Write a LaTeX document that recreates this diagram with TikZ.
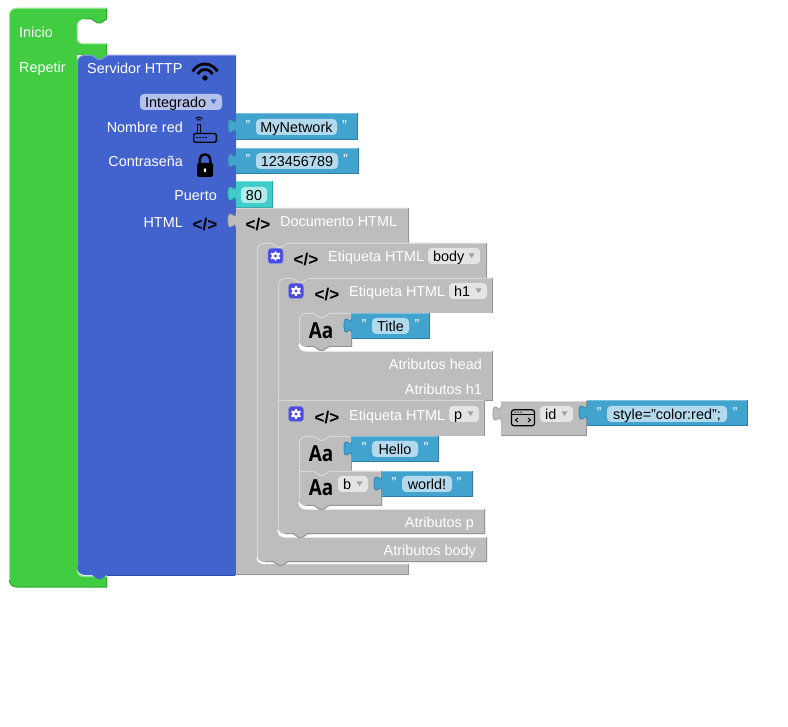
\documentclass[tikz,border=0pt]{standalone}
\usepackage{fontspec}
\setmainfont{Liberation Sans}
\newfontfamily\iconfont{Open Sans}

\definecolor{greenmain}{HTML}{41CC41}
\definecolor{greenlight}{HTML}{8AE58A}
\definecolor{greendark}{HTML}{2EA52E}
\definecolor{bluemain}{HTML}{4263CE}
\definecolor{bluelight}{HTML}{7F95E0}
\definecolor{bluedark}{HTML}{2E4AA8}
\definecolor{bluefield}{HTML}{B3C1EB}
\definecolor{skymain}{HTML}{42A3CF}
\definecolor{skylight}{HTML}{7BBEDD}
\definecolor{skydark}{HTML}{2E7FA6}
\definecolor{skyfield}{HTML}{B3DAEC}
\definecolor{tealmain}{HTML}{41CCCC}
\definecolor{teallight}{HTML}{7BDFDF}
\definecolor{tealdark}{HTML}{2EA6A6}
\definecolor{tealfield}{HTML}{B3EBEB}
\definecolor{greymain}{HTML}{BDBDBD}
\definecolor{greylight}{HTML}{D8D8D8}
\definecolor{greydark}{HTML}{969696}
\definecolor{greyfield}{HTML}{E4E4E4}
\definecolor{gearblue}{HTML}{4C4CE0}

\tikzset{
    label/.style={inner sep=0pt, yshift=-0.7pt, text=white, font=\fontsize{14.4}{16}\selectfont},
    value/.style={inner sep=0pt, yshift=-0.7pt, text=black, font=\fontsize{14.4}{16}\selectfont, anchor=base},
    quote/.style={inner sep=0pt, yshift=-0.7pt, text=white, font=\fontsize{14.4}{16}\selectfont, anchor=base},
    codeicon/.style={inner sep=0pt, text=black, font=\fontsize{17}{18}\selectfont\bfseries},
    textsicon/.style={inner sep=0pt, text=black, font=\fontsize{22}{24}\selectfont\iconfont\bfseries, xscale=0.86, transform shape},
    hi/.style={line width=1pt, draw=#1light},
    lo/.style={line width=1pt, draw=#1dark},
}

% tabs of the blocks, left to right and right to left
\def\notchR{-- ++(6,4) -- ++(3,0) -- ++(6,-4)}
\def\notchL{-- ++(-6,4) -- ++(-3,0) -- ++(-6,-4)}

% left puzzle tab of an output block
\newcommand{\puzzletab}[3]{
    \path[fill=#3main, draw=#3dark, line width=0.7pt] (#1,#2+20) .. controls (#1,#2+10) and (#1-8,#2+28) .. (#1-8,#2+12.5)
        .. controls (#1-8,#2-3) and (#1,#2+15) .. (#1,#2+5);
}
% value block: x0, y0, x1, y1, palette
\newcommand{\valblock}[5]{
    \puzzletab{#1}{#2}{#5}
    \fill[#5main] (#1,#2) rectangle (#3,#4);
    \draw[hi=#5] (#1,#2+0.5) -- (#3,#2+0.5);
    \draw[lo=#5] (#3-0.5,#2) -- (#3-0.5,#4-0.5) -- (#1,#4-0.5);
}
% editable field: name, x0, x1, centre y, palette, text
\newcommand{\fieldpill}[6]{
    \fill[#5field, rounded corners=4pt] (#2,#4-8) rectangle (#3,#4+8);
    \path ({(#2+#3)/2},#4+5) node[value](#1) {#6};
}
% dropdown field: name, x0, x1, centre y, palette, text, colour of the mark
\newcommand{\droppill}[7]{
    \fill[#5field, rounded corners=4pt] (#2,#4-8) rectangle (#3,#4+8);
    \path (#2+5,#4+5) node[value, anchor=base west](#1) {#6};
    \fill[#7] (#3-11.5,#4-2.5) -- (#3-5.5,#4-2.5) -- (#3-8.5,#4+2) -- cycle;
}
% settings button
\newcommand{\gearbutton}[2]{
    \fill[gearblue, draw=gearblue!70!white, rounded corners=3pt] (#1-7.5,#2-7.5) rectangle (#1+7.5,#2+7.5);
    \foreach \a in {0,60,...,300}
        \draw[white, line width=1.8pt] (#1,#2) ++(\a+30:3pt) -- ++(\a+30:2.2pt);
    \fill[white] (#1,#2) circle (3.9pt);
    \fill[gearblue] (#1,#2) circle (1.7pt);
}

\begin{document}
\begin{tikzpicture}[x=1pt, y=-1pt]
    \useasboundingbox (0,0) rectangle (788,727);

    % Inicio / Repetir
    \fill[greenmain] (60,587) [rounded corners=8pt] -- (9,587) -- (9,8) -- (60,8) [sharp corners] -- (107,8) -- (107,19) \notchL -- (85,19)
        [rounded corners=7pt] -- (77,19) -- (77,44) -- (90,44) [sharp corners] -- (107,44) -- (107,55) \notchL -- (77,55) -- (77,560)
        [rounded corners=7pt] -- (77,577) -- (95,577) [sharp corners] -- (107,577) -- (107,587) -- cycle;
    \draw[hi=green] (9.5,580) -- (9.5,16) .. controls (9.5,11) and (12,8.5) .. (17,8.5) -- (106.5,8.5);
    \draw[lo=green] (106.5,9) -- (106.5,19) \notchL -- (85,19);
    \draw[hi=green] (77,23) -- (77,39) .. controls (77,42) and (80,44) .. (84,44) -- (106.5,44);
    \draw[lo=green] (106.5,44) -- (106.5,55);
    \draw[hi=green, line width=1.4pt] (77,569) .. controls (77,574) and (80,576.5) .. (85,576.5) -- (106.5,576.5);
    \draw[lo=green] (9.5,580) .. controls (9.5,584) and (12,587) .. (17,587) -- (106.5,587) -- (106.5,577);
    \path (19,37) node[label, anchor=base west](inicio) {Inicio};
    \path (19,72) node[label, anchor=base west](repetir) {Repetir};

    % Servidor HTTP
    \fill[bluemain] (80,55) -- (92,55) \notchR -- (236,55) -- (236,575) -- (107,575) \notchL -- (85,575) [rounded corners=8pt] -- (77,575) -- (77,300)
        -- (77,55) -- (85,55) [sharp corners] -- cycle;
    \draw[hi=blue] (77.5,567) -- (77.5,63) .. controls (77.5,58) and (80,55.5) .. (85,55.5) -- (92,55.5) \notchR -- (236,55.5);
    \draw[lo=blue] (107,575) -- (235,575);
    \path (87,73) node[label, anchor=base west](servidor) {Servidor HTTP};
    \path (183,132) node[label, anchor=base east](nombre) {Nombre red};
    \path (183,166) node[label, anchor=base east](contrasena) {Contraseña};
    \path (217,200) node[label, anchor=base east](puerto) {Puerto};
    \path (183,226.5) node[label, anchor=base east](html) {HTML};
    \droppill{integrado}{140}{222}{102}{blue}{Integrado}{bluemain}

    % wifi
    \fill[black] (205,78) circle (2.7pt);
    \draw[black, line width=2.8pt] (205,78) ++(28:14pt) arc[start angle=28, end angle=152, radius=14pt];
    \draw[black, line width=2.8pt] (205,78) ++(28:8.5pt) arc[start angle=28, end angle=152, radius=8.5pt];
    % router
    \draw[black, line width=1.4pt, rounded corners=1.5pt] (193.7,133.5) rectangle (216.3,142.3);
    \draw[black, line width=1pt] (197.5,133) -- (197.5,125) -- (200.5,125) -- (200.5,133);
    \draw[black, line width=1pt] (199,122) ++(45:2.5pt) arc[start angle=45, end angle=135, radius=2.5pt];
    \draw[black, line width=1pt] (199,122) ++(45:5pt) arc[start angle=45, end angle=135, radius=5pt];
    \foreach \x in {197,200,203,206} \fill[black] (\x,137.5) circle (0.8pt);
    % lock
    \fill[black, rounded corners=1.5pt] (197,163) rectangle (213,177);
    \draw[black, line width=2.4pt] (199.7,164) -- (199.7,159.5) arc[start angle=180, end angle=0, radius=5.3pt] -- (210.3,164);
    \fill[white] (205,169.5) circle (1.3pt);
    \fill[white] (204.4,169.5) rectangle (205.6,172.5);

    \path (205,225) node[codeicon](iconhtml) {</>};

    % value blocks of the server
    \valblock{236}{113.5}{358}{140}{sky}
    \fieldpill{mynetwork}{256}{337}{127}{sky}{MyNetwork}
    \path (248,130) node[quote](q1a) {"};
    \path (344.5,130) node[quote](q1b) {"};

    \valblock{236}{148}{359}{174}{sky}
    \fieldpill{clave}{256}{338}{161}{sky}{123456789}
    \path (248,164) node[quote](q2a) {"};
    \path (345.5,164) node[quote](q2b) {"};

    \valblock{236}{181}{273}{208}{teal}
    \fieldpill{port}{241}{267}{195}{teal}{80}

    % Documento HTML
    \puzzletab{236}{208}{grey}
    \fill[greymain] (236,208) -- (409,208) -- (409,243) -- (257,243) -- (257,540) [rounded corners=7pt] -- (257,563.5) -- (300,563.5) [sharp corners]
        -- (409,563.5) -- (409,575) -- (236,575) -- cycle;
    \draw[hi=grey] (236,208.5) -- (409,208.5);
    \draw[lo=grey] (408.5,208) -- (408.5,243);
    \draw[lo=grey] (408.5,563.5) -- (408.5,574.5) -- (236,574.5);
    \draw[draw=white, line width=1.2pt] (257,557) .. controls (257,561) and (260,563.5) .. (264,563.5) -- (408,563.5);
    \path (258,225) node[codeicon](icondoc) {</>};
    \path (280,226) node[label, anchor=base west](documento) {Documento HTML};

    % Etiqueta HTML body
    \fill[greymain] (257,243) -- (487,243) -- (487,278) -- (278,278) -- (278,510) [rounded corners=7pt] -- (278,537) -- (330,537) [sharp corners] -- (487,537)
        -- (487,562) -- (288,562) \notchL -- (270,562) [rounded corners=7pt] -- (257,562) -- (257,500) [sharp corners] -- cycle;
    \draw[hi=grey] (257.5,556) -- (257.5,250) .. controls (257.5,246) and (260,243.5) .. (264,243.5) -- (272,243.5) \notchR -- (486,243.5);
    \draw[lo=grey] (486.5,243) -- (486.5,278);
    \draw[lo=grey] (486.5,537) -- (486.5,561.5) -- (288,561.5) \notchL -- (265,561.5);
    \draw[draw=white, line width=1.2pt] (278,530) .. controls (278,534) and (281,537) .. (285,537) -- (486,537);
    \gearbutton{275.5}{256}
    \path (306,259.5) node[codeicon](iconbody) {</>};
    \path (328,261) node[label, anchor=base west](etiqbody) {Etiqueta HTML};
    \droppill{tagbody}{428}{480}{256}{grey}{body}{greydark!90!white}
    \path (476,555) node[label, anchor=base east](atrbody) {Atributos body};

    % Etiqueta HTML h1
    \fill[greymain] (278,278) -- (493,278) -- (493,313) -- (299,313) -- (299,325) [rounded corners=7pt] -- (299,351) -- (340,351) [sharp corners] -- (493,351)
        -- (493,400) -- (278,400) -- cycle;
    \draw[hi=grey] (278.5,400) -- (278.5,285) .. controls (278.5,281) and (281,278.5) .. (285,278.5) -- (293,278.5) \notchR -- (492,278.5);
    \draw[lo=grey] (492.5,278) -- (492.5,313);
    \draw[lo=grey] (492.5,351) -- (492.5,400.5) -- (485,400.5);
    \draw[draw=white, line width=1.2pt] (299,344) .. controls (299,348) and (302,351) .. (306,351) -- (492,351);
    \gearbutton{296}{291}
    \path (327,295) node[codeicon](iconh1) {</>};
    \path (349,296) node[label, anchor=base west](etiqh1) {Etiqueta HTML};
    \droppill{tagh1}{449}{487}{291}{grey}{h1}{greydark!90!white}
    \path (482,369) node[label, anchor=base east](atrhead) {Atributos head};
    \path (482,394) node[label, anchor=base east](atrh1) {Atributos h1};

    % Aa Title
    \fill[greymain] (299,313) -- (352,313) -- (352,347) -- (329,347) \notchL -- (310,347) [rounded corners=7pt] -- (299,347) -- (299,330) [sharp corners] -- cycle;
    \draw[hi=grey] (299.5,340) -- (299.5,320) .. controls (299.5,316) and (302,313.5) .. (306,313.5) -- (314,313.5) \notchR -- (352,313.5);
    \draw[lo=grey] (351.5,313) -- (351.5,346.5) -- (329,346.5) \notchL -- (306,346.5);
    \path (321,331) node[textsicon](aatitle) {Aa};
    \valblock{352}{313}{430}{339}{sky}
    \fieldpill{title}{372}{409}{326}{sky}{Title}
    \path (364,329) node[quote](q3a) {"};
    \path (417,329) node[quote](q3b) {"};

    % Etiqueta HTML p
    \fill[greymain] (278,400) -- (485,400) -- (485,436) -- (299,436) -- (299,445) [rounded corners=7pt] -- (299,509) -- (340,509) [sharp corners] -- (485,509)
        -- (485,534) -- (308,534) \notchL -- (290,534) [rounded corners=7pt] -- (278,534) -- (278,500) [sharp corners] -- cycle;
    \draw[hi=grey] (278,400.7) -- (484,400.7);
    \draw[hi=grey] (278.5,400) -- (278.5,527);
    \draw[lo=grey] (484.5,401) -- (484.5,436);
    \draw[lo=grey] (484.5,509) -- (484.5,533.5) -- (308,533.5) \notchL -- (285,533.5);
    \draw[draw=white, line width=1.2pt] (299,502) .. controls (299,506) and (302,509) .. (306,509) -- (484,509);
    \gearbutton{296}{414}
    \path (327,418) node[codeicon](iconp) {</>};
    \path (349,419.5) node[label, anchor=base west](etiqp) {Etiqueta HTML};
    \droppill{tagp}{449}{479}{414}{grey}{p}{greydark!90!white}
    \path (474,527) node[label, anchor=base east](atrp) {Atributos p};

    % Aa Hello
    \fill[greymain] (299,436) -- (352,436) -- (352,471) -- (299,471) -- cycle;
    \draw[hi=grey] (299.5,471) -- (299.5,443) .. controls (299.5,439) and (302,436.5) .. (306,436.5) -- (314,436.5) \notchR -- (352,436.5);
    \draw[lo=grey] (351.5,436) -- (351.5,471);
    \path (321,454) node[textsicon](aahello) {Aa};
    \valblock{352}{436}{439}{462}{sky}
    \fieldpill{hello}{372}{418}{449}{sky}{Hello}
    \path (364,452) node[quote](q4a) {"};
    \path (426,452) node[quote](q4b) {"};

    % Aa b
    \fill[greymain] (299,471) -- (382,471) -- (382,506) -- (329,506) \notchL -- (310,506) [rounded corners=7pt] -- (299,506) -- (299,490) [sharp corners] -- cycle;
    \draw[hi=grey] (299.5,499) -- (299.5,471.5) -- (314,471.5) \notchR -- (382,471.5);
    \draw[lo=grey] (381.5,471) -- (381.5,505.5) -- (329,505.5) \notchL -- (306,505.5);
    \path (321,488) node[textsicon](aab) {Aa};
    \droppill{tagb}{338}{368}{484}{grey}{b}{greydark!90!white}
    \valblock{382}{471}{473}{497}{sky}
    \fieldpill{world}{402}{452}{484}{sky}{world!}
    \path (394,487) node[quote](q5a) {"};
    \path (459,487) node[quote](q5b) {"};

    % id
    \valblock{501}{401}{587}{436}{grey}
    \draw[black, line width=1.2pt, rounded corners=2.5pt] (511.5,409.8) rectangle (534.5,425.8);
    \draw[black, line width=1.2pt] (511.5,414.5) -- (534.5,414.5);
    \foreach \x in {515,518,521} \fill[black] (\x,412.2) circle (0.7pt);
    \draw[black, line width=1pt] (518,418) -- (515.5,420) -- (518,422);
    \draw[black, line width=1pt] (528,418) -- (530.5,420) -- (528,422);
    \droppill{attrid}{540}{573}{414}{grey}{id}{greydark!90!white}
    \valblock{587}{400}{748}{426.5}{sky}
    \fieldpill{style}{607}{727}{414}{sky}{style="color:red";}
    \path (599,417) node[quote](q6a) {"};
    \path (735,417) node[quote](q6b) {"};
\end{tikzpicture}
\end{document}
